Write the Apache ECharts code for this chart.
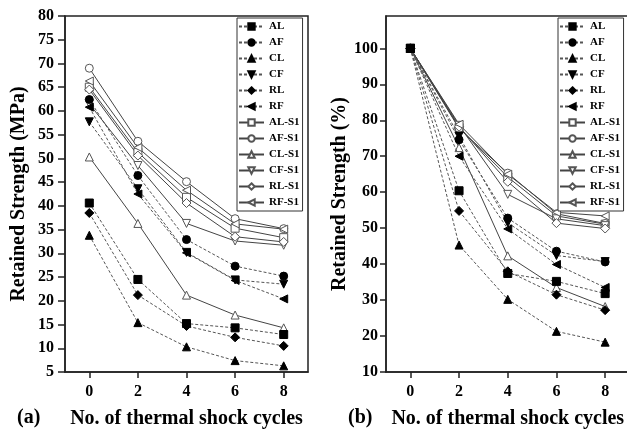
<!DOCTYPE html>
<html>
<head>
<meta charset="utf-8">
<script src="https://cdn.jsdelivr.net/npm/echarts@6/dist/echarts.min.js"></script>
<style>
  html, body { margin: 0; padding: 0; background: #fff; }
  #chart { width: 627px; height: 429px; }
</style>
</head>
<body>
<div id="chart"></div>
<script>
// thermal shock cycles, axis runs -1..9 but only even cycles are labelled
const axisSlots = ['-1', '0', '1', '2', '3', '4', '5', '6', '7', '8', '9'];
const cycleLabels = ['0', '2', '4', '6', '8'];
const names = ['AL', 'AF', 'CL', 'CF', 'RL', 'RF', 'AL-S1', 'AF-S1', 'CL-S1', 'CF-S1', 'RL-S1', 'RF-S1'];

// (a) retained strength, MPa
const mpaAL = [40.6, 24.5, 15.2, 14.3, 12.9];
const mpaAF = [62.4, 46.4, 32.9, 27.3, 25.2];
const mpaCL = [33.8, 15.4, 10.3, 7.4, 6.3];
const mpaCF = [57.7, 43.6, 30.2, 24.4, 23.5];
const mpaRL = [38.5, 21.2, 14.7, 12.3, 10.5];
const mpaRF = [60.8, 42.5, 30.1, 24.3, 20.4];
const mpaALS1 = [65.0, 51.3, 41.8, 35.3, 33.3];
const mpaAFS1 = [69.0, 53.6, 45.1, 37.3, 35.2];
const mpaCLS1 = [50.3, 36.3, 21.2, 17.0, 14.3];
const mpaCFS1 = [61.5, 48.5, 36.3, 32.6, 31.7];
const mpaRLS1 = [64.5, 50.6, 40.6, 33.5, 32.4];
const mpaRFS1 = [66.3, 52.3, 43.3, 36.2, 35.1];

// (b) retained strength, %
const pctAL = [100, 60.4, 37.4, 35.2, 31.8];
const pctAF = [100, 74.6, 52.8, 43.6, 40.6];
const pctCL = [100, 45.3, 30.2, 21.3, 18.3];
const pctCF = [100, 75.6, 51.5, 42.4, 40.7];
const pctRL = [100, 54.8, 38.0, 31.5, 27.2];
const pctRF = [100, 70.0, 49.8, 39.9, 33.5];
const pctALS1 = [100, 78.0, 64.2, 53.4, 51.1];
const pctAFS1 = [100, 77.7, 65.3, 54.0, 51.3];
const pctCLS1 = [100, 72.4, 42.3, 33.5, 28.2];
const pctCFS1 = [100, 78.6, 59.4, 52.6, 50.7];
const pctRLS1 = [100, 78.2, 62.9, 51.4, 49.9];
const pctRFS1 = [100, 78.9, 65.0, 54.4, 53.4];

const mpaSets = [mpaAL, mpaAF, mpaCL, mpaCF, mpaRL, mpaRF, mpaALS1, mpaAFS1, mpaCLS1, mpaCFS1, mpaRLS1, mpaRFS1];
const pctSets = [pctAL, pctAF, pctCL, pctCF, pctRL, pctRF, pctALS1, pctAFS1, pctCLS1, pctCFS1, pctRLS1, pctRFS1];

const shapes = ['rect', 'circle', 'triangle', 'triangle', 'diamond', 'triangle'];
const turns = [0, 0, 0, 180, 0, 90];

const font = 'Liberation Serif';
const chart = echarts.init(document.getElementById('chart'));

function makeSeries(sets, idx) {
  return sets.map(function (vals, i) {
    const open = i >= 6;
    const k = i % 6;
    return {
      name: names[i],
      type: 'line',
      xAxisIndex: idx,
      yAxisIndex: idx,
      data: vals.map(function (v, j) { return [cycleLabels[j], v]; }),
      symbol: shapes[k],
      symbolRotate: turns[k],
      symbolSize: k === 4 ? 9 : 8,
      z: open ? 2 : 3,
      itemStyle: {
        color: open ? '#fff' : '#000',
        borderColor: open ? '#555' : '#000',
        borderWidth: 1
      },
      lineStyle: {
        color: open ? '#444' : '#555',
        width: 1,
        type: open ? 'solid' : [3, 2]
      },
      emphasis: { disabled: true },
      animation: false
    };
  });
}

function xAxisOf(idx) {
  const keep = function (i, v) { return cycleLabels.indexOf(v) >= 0; };
  return {
    type: 'category',
    gridIndex: idx,
    data: axisSlots,
    boundaryGap: false,
    name: 'No. of thermal shock cycles',
    nameLocation: 'middle',
    nameGap: 37,
    nameTextStyle: { fontFamily: font, fontWeight: 'bold', fontSize: 20, color: '#000' },
    axisLine: { lineStyle: { color: '#222', width: 1.5 } },
    axisTick: { interval: keep, length: 6, lineStyle: { color: '#222', width: 1.5 } },
    axisLabel: { interval: keep, margin: 12, fontFamily: font, fontWeight: 'bold', fontSize: 16, color: '#000' },
    splitLine: { show: false }
  };
}

function legendOf(left) {
  return {
    left: left,
    top: 18,
    orient: 'vertical',
    data: names,
    backgroundColor: '#fff',
    borderColor: '#333',
    borderWidth: 1,
    padding: [3, 3, 3, 1],
    itemWidth: 25,
    itemHeight: 8,
    itemGap: 5,
    selectedMode: false,
    textStyle: { fontFamily: font, fontWeight: 'bold', fontSize: 11, color: '#000', lineHeight: 10 }
  };
}

const option = {
  backgroundColor: '#fff',
  animation: false,
  grid: [
    { left: 65, top: 16, width: 243, height: 356, outerBoundsMode: 'none', show: true, borderColor: '#222', borderWidth: 1.5 },
    { left: 386, top: 16, width: 243.5, height: 356, outerBoundsMode: 'none', show: true, borderColor: '#222', borderWidth: 1.5 }
  ],
  xAxis: [xAxisOf(0), xAxisOf(1)],
  yAxis: [
    {
      type: 'value', gridIndex: 0, min: 5, max: 80, interval: 5,
      name: 'Retained Strength (MPa)', nameLocation: 'middle', nameGap: 36,
      nameTextStyle: { fontFamily: font, fontWeight: 'bold', fontSize: 20, color: '#000' },
      axisLine: { show: true, lineStyle: { color: '#222', width: 1.5 } },
      axisTick: { show: true, length: 7, lineStyle: { color: '#222', width: 1.5 } },
      axisLabel: { margin: 11, fontFamily: font, fontWeight: 'bold', fontSize: 16, color: '#000' },
      splitLine: { show: false }
    },
    {
      type: 'value', gridIndex: 1, min: 10, max: 109, interval: 10,
      name: 'Retained Strength (%)', nameLocation: 'middle', nameGap: 34,
      nameTextStyle: { fontFamily: font, fontWeight: 'bold', fontSize: 20, color: '#000' },
      axisLine: { show: true, lineStyle: { color: '#222', width: 1.5 } },
      axisTick: { show: true, length: 6, lineStyle: { color: '#222', width: 1.5 } },
      axisLabel: { margin: 8, showMaxLabel: false, fontFamily: font, fontWeight: 'bold', fontSize: 16, color: '#000' },
      splitLine: { show: false }
    }
  ],
  legend: [legendOf(237), legendOf(558)],
  graphic: [
    { type: 'text', left: 17, top: 408, style: { text: '(a)', fontFamily: font, fontWeight: 'bold', fontSize: 20, fill: '#000' } },
    { type: 'text', left: 348, top: 408, style: { text: '(b)', fontFamily: font, fontWeight: 'bold', fontSize: 20, fill: '#000' } }
  ],
  series: makeSeries(mpaSets, 0).concat(makeSeries(pctSets, 1))
};

chart.setOption(option);
</script>
</body>
</html>
